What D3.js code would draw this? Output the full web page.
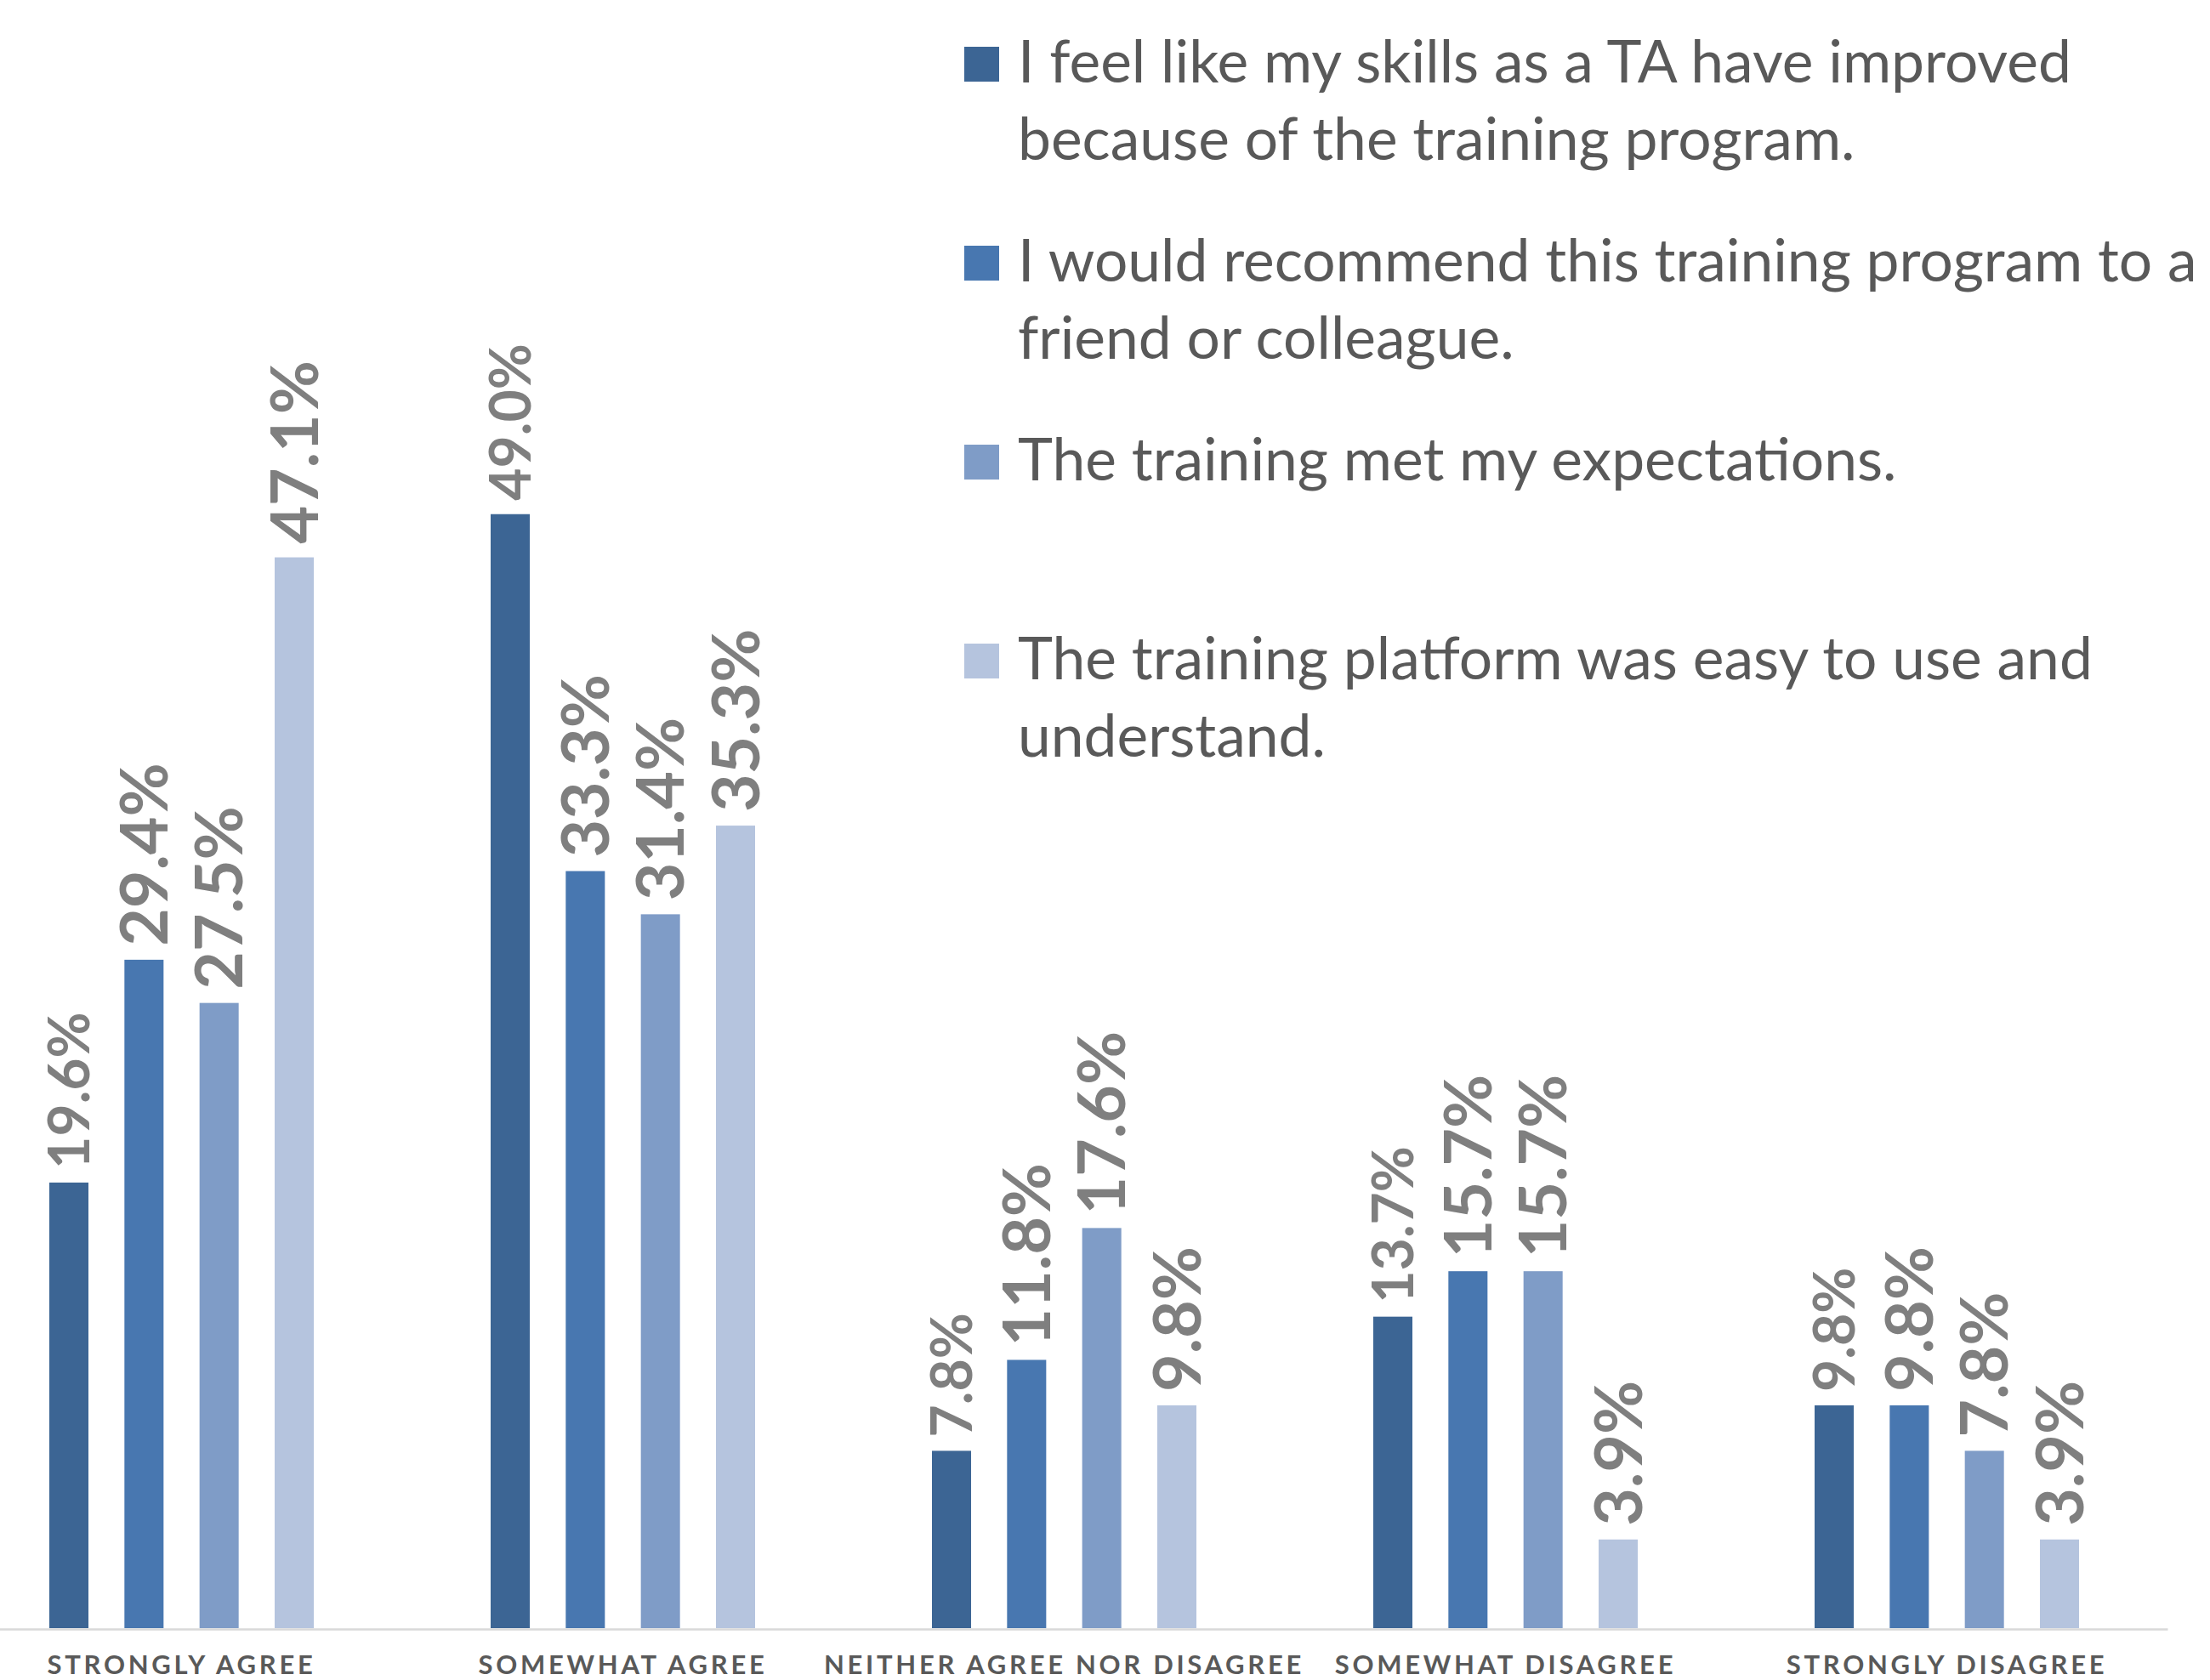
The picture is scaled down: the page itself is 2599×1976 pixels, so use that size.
<!doctype html>
<html>
<head>
<meta charset="utf-8"/>
<script src="https://cdnjs.cloudflare.com/ajax/libs/d3/7.8.5/d3.min.js"></script>
<style>
  body { margin: 0; background: #fff; }
  svg { display: block; }
</style>
</head>
<body>
<svg id="chart" width="2599" height="1976"></svg>
<script>
  // categories along the x axis
  var categories = ["STRONGLY AGREE", "SOMEWHAT AGREE", "NEITHER AGREE NOR DISAGREE", "SOMEWHAT DISAGREE", "STRONGLY DISAGREE"]

  // series (legend text, already wrapped like the original)
  var seriesLines = [
    ["I feel like my skills as a TA have improved", "because of the training program."],
    ["I would recommend this training program to a", "friend or colleague."],
    ["The training met my expectations."],
    ["The training platform was easy to use and", "understand."]
  ]
  var seriesNames = seriesLines.map(l => l.join(" "))

  // values in percent, one array per series
  var skillsImproved = [19.6, 49.0, 7.8, 13.7, 9.8]
  var wouldRecommend = [29.4, 33.3, 11.8, 15.7, 9.8]
  var metExpectations = [27.5, 31.4, 17.6, 15.7, 7.8]
  var platformEasy = [47.1, 35.3, 9.8, 3.9, 3.9]
  var seriesValues = [skillsImproved, wouldRecommend, metExpectations, platformEasy]

  var colors = ["#3c6594", "#4877b0", "#7f9cc7", "#b5c4de"]
  // first series has slightly smaller labels in the original
  var labelSize = [66, 77, 77, 77]

  var svg = d3.select("#chart")

  var baseY = 1915

  var x0 = d3.scaleBand()
    .domain(categories)
    .range([-46, 2549])

  var x1 = d3.scaleBand()
    .domain(d3.range(seriesValues.length))
    .range([104, 415])
    .paddingInner(0.479)

  var y = d3.scaleLinear()
    .domain([0, 50])
    .range([baseY, 578])

  // flatten to one record per bar
  var bars = []
  seriesValues.forEach((vals, s) => {
    vals.forEach((v, c) => bars.push({ s: s, cat: categories[c], v: v }))
  })

  // x axis line + category labels
  var xAxis = d3.axisBottom(x0).tickSize(0).tickPadding(0)
  var axisG = svg.append("g")
    .attr("transform", "translate(0," + (baseY + 1) + ")")
    .call(xAxis)
  axisG.select(".domain").attr("stroke", "#d9d9d9").attr("stroke-width", 2.5)
  axisG.selectAll(".tick text")
    .attr("y", 53)
    .attr("dy", null)
    .style("font-family", "Lato, 'Open Sans', sans-serif")
    .style("font-weight", 700)
    .style("font-size", "31px")
    .style("letter-spacing", "3.7px")
    .style("fill", "#595959")

  svg.append("g")
    .selectAll("rect")
    .data(bars)
    .enter()
    .append("rect")
    .attr("x", d => x0(d.cat) + x1(d.s))
    .attr("width", x1.bandwidth())
    .attr("y", d => y(d.v))
    .attr("height", d => baseY - y(d.v))
    .style("fill", d => colors[d.s])

  // rotated value labels
  svg.append("g")
    .selectAll("text")
    .data(bars)
    .enter()
    .append("text")
    .attr("transform", d => {
      var cx = x0(d.cat) + x1(d.s) + x1.bandwidth() / 2 + labelSize[d.s] * 0.36
      return "translate(" + cx + "," + (y(d.v) - 16) + ") rotate(-90)"
    })
    .text(d => d.v.toFixed(1) + "%")
    .style("font-family", "Lato, 'Open Sans', sans-serif")
    .style("font-weight", 700)
    .style("font-size", d => labelSize[d.s] + "px")
    .style("fill", "#7f7f7f")

  // legend
  var legend = svg.append("g")
    .selectAll("g")
    .data(seriesLines)
    .enter()
    .append("g")
    .attr("transform", (d, i) => "translate(1134," + (55 + i * 234) + ")")

  legend.append("rect")
    .attr("width", 41)
    .attr("height", 41)
    .style("fill", (d, i) => colors[i])

  legend.append("text")
    .style("font-family", "Lato, 'Open Sans', sans-serif")
    .style("font-size", "69.5px")
    .style("fill", "#595959")
    .selectAll("tspan")
    .data(d => d)
    .enter()
    .append("tspan")
    .attr("x", 63)
    .attr("y", (d, j) => 42 + j * 91)
    .text(d => d)
</script>
</body>
</html>
